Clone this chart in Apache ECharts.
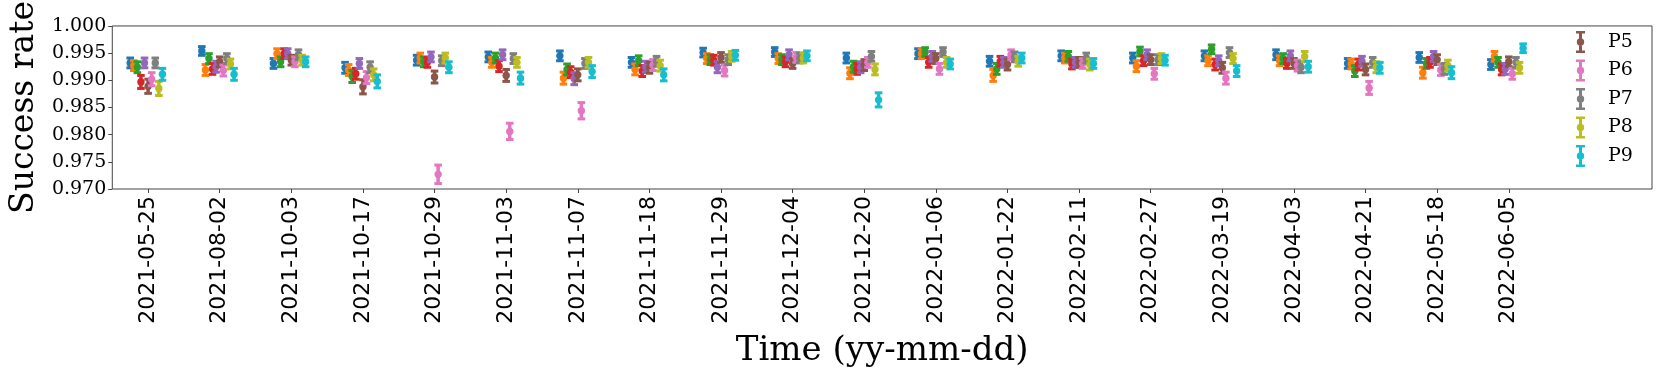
<!DOCTYPE html>
<html>
<head>
<meta charset="utf-8">
<script src="https://cdn.jsdelivr.net/npm/echarts@6/dist/echarts.min.js"></script>
<style>
  html, body { margin: 0; padding: 0; background: #fff; }
  #chart-container { width: 1661px; height: 369px; }
</style>
</head>
<body>
<div id="chart-container"></div>
<script>
var dates = ["2021-05-25", "2021-08-02", "2021-10-03", "2021-10-17", "2021-10-29",
  "2021-11-03", "2021-11-07", "2021-11-18", "2021-11-29", "2021-12-04",
  "2021-12-20", "2022-01-06", "2022-01-22", "2022-02-11", "2022-02-27",
  "2022-03-19", "2022-04-03", "2022-04-21", "2022-05-18", "2022-06-05"];

var names = ["P0", "P1", "P2", "P3", "P4", "P5", "P6", "P7", "P8", "P9"];
var colors = ["#1f77b4", "#ff7f0e", "#2ca02c", "#d62728", "#9467bd",
  "#8c564b", "#e377c2", "#7f7f7f", "#bcbd22", "#17becf"];

// success rate per date, one array per P
var p0 = [0.9932, 0.9954, 0.9931, 0.9923, 0.9937, 0.9943, 0.9945, 0.9933, 0.9951, 0.9952, 0.9941, 0.9949, 0.9935, 0.9945, 0.9941, 0.9945, 0.9947, 0.9931, 0.9942, 0.9929];
var p1 = [0.9927, 0.9919, 0.9949, 0.9919, 0.9941, 0.9933, 0.9904, 0.9920, 0.9940, 0.9940, 0.9913, 0.9949, 0.9909, 0.9941, 0.9926, 0.9936, 0.9936, 0.9930, 0.9914, 0.9944];
var p2 = [0.9924, 0.9940, 0.9934, 0.9907, 0.9934, 0.9941, 0.9920, 0.9936, 0.9938, 0.9938, 0.9925, 0.9952, 0.9921, 0.9944, 0.9953, 0.9957, 0.9940, 0.9917, 0.9931, 0.9933];
var p3 = [0.9897, 0.9921, 0.9949, 0.9912, 0.9933, 0.9926, 0.9915, 0.9917, 0.9937, 0.9934, 0.9921, 0.9933, 0.9935, 0.9930, 0.9936, 0.9929, 0.9931, 0.9929, 0.9933, 0.9920];
var p4 = [0.9932, 0.9925, 0.9949, 0.9931, 0.9943, 0.9947, 0.9903, 0.9925, 0.9924, 0.9947, 0.9924, 0.9944, 0.9933, 0.9933, 0.9947, 0.9936, 0.9945, 0.9935, 0.9944, 0.9921];
var p5 = [0.9889, 0.9934, 0.9937, 0.9888, 0.9906, 0.9909, 0.9910, 0.9923, 0.9942, 0.9931, 0.9928, 0.9940, 0.9929, 0.9933, 0.9938, 0.9923, 0.9931, 0.9920, 0.9938, 0.9934];
var p6 = [0.9902, 0.9918, 0.9934, 0.9905, 0.9727, 0.9806, 0.9844, 0.9928, 0.9918, 0.9942, 0.9933, 0.9921, 0.9947, 0.9931, 0.9912, 0.9904, 0.9927, 0.9886, 0.9919, 0.9912];
var p7 = [0.9932, 0.9940, 0.9947, 0.9924, 0.9936, 0.9940, 0.9931, 0.9935, 0.9938, 0.9941, 0.9944, 0.9952, 0.9943, 0.9941, 0.9938, 0.9951, 0.9924, 0.9933, 0.9921, 0.9933];
var p8 = [0.9885, 0.9930, 0.9937, 0.9910, 0.9941, 0.9933, 0.9933, 0.9927, 0.9944, 0.9941, 0.9920, 0.9933, 0.9935, 0.9929, 0.9940, 0.9940, 0.9944, 0.9924, 0.9927, 0.9923];
var p9 = [0.9911, 0.9911, 0.9934, 0.9898, 0.9924, 0.9904, 0.9916, 0.9910, 0.9946, 0.9945, 0.9864, 0.9930, 0.9941, 0.9931, 0.9937, 0.9917, 0.9925, 0.9923, 0.9914, 0.9959];

// half error bar, in units of 1e-4
var e0 = [9, 8, 9, 10, 9, 9, 9, 9, 8, 8, 9, 9, 9, 9, 9, 9, 9, 9, 9, 9];
var e1 = [9, 10, 9, 10, 9, 9, 11, 10, 9, 9, 10, 9, 11, 9, 10, 9, 9, 9, 10, 9];
var e2 = [10, 9, 9, 11, 9, 9, 10, 9, 9, 9, 10, 8, 10, 9, 8, 8, 9, 10, 9, 9];
var e3 = [12, 10, 9, 10, 9, 10, 10, 10, 9, 9, 10, 9, 9, 9, 9, 10, 9, 10, 9, 10];
var e4 = [9, 10, 9, 9, 9, 9, 11, 10, 10, 9, 10, 9, 9, 9, 9, 9, 9, 9, 9, 10];
var e5 = [13, 9, 9, 13, 11, 11, 11, 10, 9, 9, 10, 9, 10, 9, 9, 10, 9, 10, 9, 9];
var e6 = [12, 10, 9, 11, 17, 15, 15, 10, 10, 9, 9, 10, 9, 9, 10, 11, 10, 12, 10, 10];
var e7 = [9, 9, 9, 10, 9, 9, 9, 9, 9, 9, 9, 8, 9, 9, 9, 9, 10, 9, 10, 9];
var e8 = [13, 9, 9, 11, 9, 9, 9, 10, 9, 9, 10, 9, 9, 10, 9, 9, 9, 10, 10, 10];
var e9 = [11, 11, 9, 12, 10, 11, 11, 11, 9, 9, 13, 9, 9, 9, 9, 10, 10, 10, 11, 8];

var yTicks = [0.970, 0.975, 0.980, 0.985, 0.990, 0.995, 1.000];
var legendShown = ["P5", "P6", "P7", "P8", "P9"];

var values = [p0, p1, p2, p3, p4, p5, p6, p7, p8, p9];
var errors = [e0, e1, e2, e3, e4, e5, e6, e7, e8, e9];

var dom = document.getElementById("chart-container");
var myChart = echarts.init(dom, null, { renderer: "canvas" });

// small errorbar glyph for the legend (all parts wound the same way)
var errIcon = "path://M0,0H9V2.5H0Z M3,0H6V22H3Z M0,19.5H9V22H0Z " +
  "M0.8,11A3.7,3.7,0,1,1,8.2,11A3.7,3.7,0,1,1,0.8,11Z";

function renderErr(params, api) {
  var x = api.value(0), y = api.value(1), e = api.value(2);
  var mid = api.coord([x, y]);
  var top = api.coord([x, y + e]);
  var bot = api.coord([x, y - e]);
  var c = api.visual("color");
  return {
    type: "group",
    children: [
      { type: "line", shape: { x1: mid[0], y1: top[1], x2: mid[0], y2: bot[1] }, style: { stroke: c, lineWidth: 3.5 } },
      { type: "line", shape: { x1: mid[0] - 3.8, y1: top[1], x2: mid[0] + 3.8, y2: top[1] }, style: { stroke: c, lineWidth: 3 } },
      { type: "line", shape: { x1: mid[0] - 3.8, y1: bot[1], x2: mid[0] + 3.8, y2: bot[1] }, style: { stroke: c, lineWidth: 3 } },
      { type: "circle", shape: { cx: mid[0], cy: mid[1], r: 3.7 }, style: { fill: c } }
    ]
  };
}

var series = names.map(function (n, s) {
  return {
    name: n,
    type: "custom",
    renderItem: renderErr,
    itemStyle: { color: colors[s] },
    encode: { x: 0, y: 1 },
    data: values[s].map(function (v, i) {
      // dodge each P a little around its date
      return [i + (s - 5) * 0.05, v, errors[s][i] / 10000];
    }),
    animation: false
  };
});

var catIdx = dates.map(function (d, i) { return i; });

var option = {
  backgroundColor: "#fff",
  animation: false,
  grid: {
    left: 100, right: 9, top: 15, bottom: 176,
    show: true, borderColor: "#444", borderWidth: 1
  },
  legend: {
    data: legendShown.map(function (n) { return { name: n, icon: errIcon }; }),
    orient: "vertical",
    left: 1571, top: 26,
    itemWidth: 9, itemHeight: 22, itemGap: 6.5,
    textStyle: { fontFamily: "DejaVu Serif", fontSize: 19, color: "#000", padding: [0, 0, 0, 18] }
  },
  xAxis: {
    type: "value",
    min: -0.5, max: 21,
    name: "Time (yy-mm-dd)",
    nameLocation: "middle",
    nameGap: 145,
    nameTextStyle: { fontFamily: "DejaVu Serif", fontSize: 34, color: "#000" },
    axisLine: { show: false, onZero: false },
    splitLine: { show: false },
    axisTick: { show: true, length: 4, lineStyle: { color: "#444" }, customValues: catIdx },
    axisLabel: {
      customValues: catIdx,
      rotate: 90,
      margin: 7,
      fontFamily: "DejaVu Sans", fontSize: 22, color: "#000",
      formatter: function (v) { return dates[Math.round(v)]; }
    }
  },
  yAxis: {
    type: "value",
    min: yTicks[0], max: yTicks[yTicks.length - 1], interval: 0.005,
    name: "Success rate",
    nameLocation: "middle",
    nameGap: 40,
    nameTextStyle: { fontFamily: "DejaVu Serif", fontSize: 33, color: "#000" },
    axisLine: { show: false, onZero: false },
    splitLine: { show: false },
    axisTick: { show: true, length: 4, lineStyle: { color: "#444" } },
    axisLabel: {
      margin: 6,
      fontFamily: "DejaVu Serif", fontSize: 19, color: "#000",
      formatter: function (v) { return v.toFixed(3); }
    }
  },
  series: series
};

myChart.setOption(option);
window.addEventListener("resize", myChart.resize);
</script>
</body>
</html>
